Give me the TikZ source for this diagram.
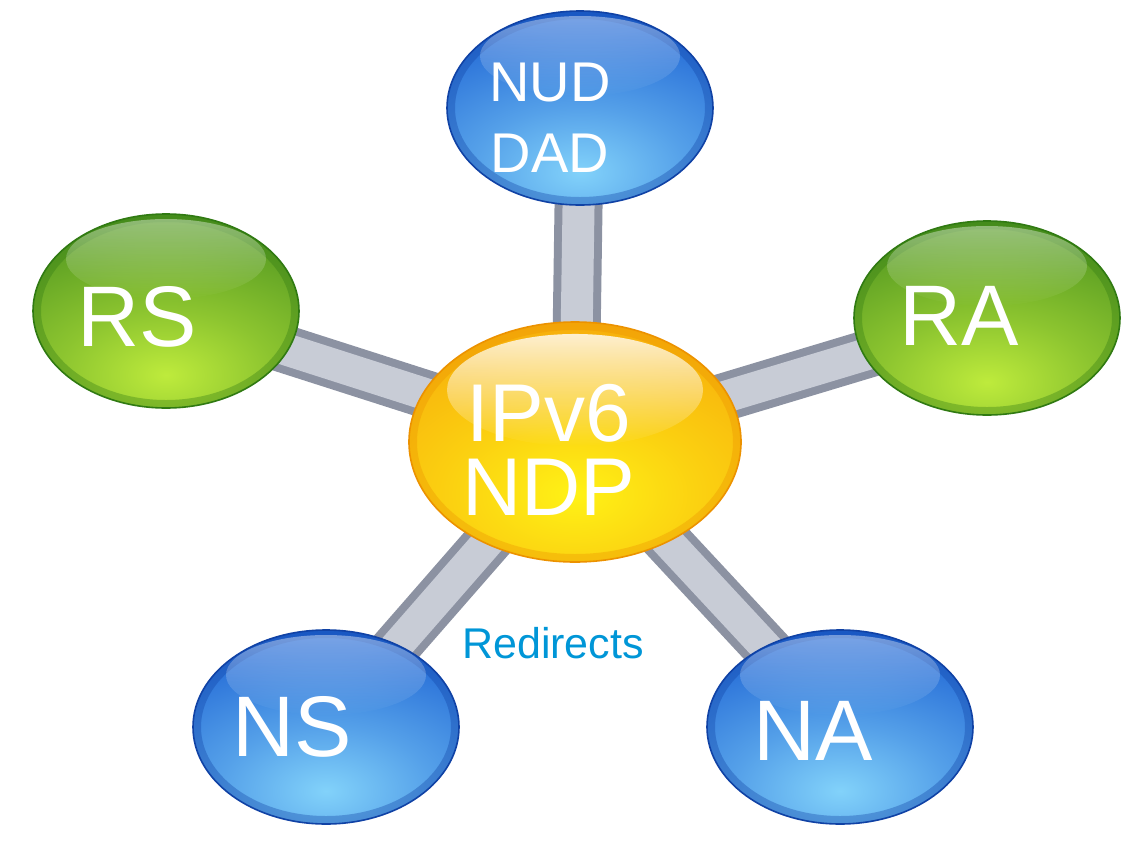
\documentclass[tikz,border=0pt]{standalone}
\usepackage{fontspec}
\setmainfont{Liberation Sans}
\usetikzlibrary{shapes.geometric,backgrounds,fadings}

\definecolor{orbblue}{RGB}{30,100,212}
\definecolor{orbblueglow}{RGB}{130,210,250}
\definecolor{orbbluerim}{RGB}{16,66,165}
\definecolor{orbgreen}{RGB}{80,150,32}
\definecolor{orbgreenglow}{RGB}{190,235,60}
\definecolor{orbgreenrim}{RGB}{48,122,18}
\definecolor{hubbody}{RGB}{246,166,10}
\definecolor{hubglow}{RGB}{255,242,22}
\definecolor{hubrim}{RGB}{236,146,0}
\definecolor{rodedge}{RGB}{140,146,162}
\definecolor{rodcore}{RGB}{200,204,214}
\definecolor{redirtext}{RGB}{0,150,215}

% lower glow of a ball, colours set just before use
\colorlet{glowin}{white}
\colorlet{glowout}{black}
\pgfdeclareradialshading[glowin,glowout]{ballglow}{\pgfpointorigin}{color(0bp)=(glowin);
  color(9bp)=(glowin!55!glowout); color(22bp)=(glowout); color(50bp)=(glowout)}
\tikzfading[name=fadedown, top color=transparent!0, bottom color=transparent!100]

\tikzset{
  % glossy satellite ball: body, glow, rim
  orb/.style n args={3}{ellipse, minimum width=133pt, minimum height=97pt,
    inner sep=0pt, fill=#1, draw=#3, line width=0.8pt,
    path picture={
      \colorlet{glowin}{#2}\colorlet{glowout}{#1}
      \shade[shading=ballglow]
        ([shift={(-150pt,-122pt)}]path picture bounding box.center) rectangle
        ([shift={(150pt,58pt)}]path picture bounding box.center);
      \draw[#3, line width=8pt, opacity=0.35]
        (path picture bounding box.center) ellipse [x radius=66.5pt, y radius=48.5pt];
      \fill[white, fill opacity=0.4, path fading=fadedown]
        ([yshift=26pt]path picture bounding box.center)
        ellipse [x radius=50pt, y radius=20pt];
    }},
  hub/.style={ellipse, minimum width=166pt, minimum height=120pt,
    inner sep=0pt, fill=hubbody, draw=hubrim, line width=0.8pt,
    path picture={
      \colorlet{glowin}{hubglow}\colorlet{glowout}{hubbody}
      \shade[shading=ballglow]
        ([shift={(-180pt,-136pt)}]path picture bounding box.center) rectangle
        ([shift={(180pt,84pt)}]path picture bounding box.center);
      \draw[hubrim, line width=8pt, opacity=0.35]
        (path picture bounding box.center) ellipse [x radius=83pt, y radius=60pt];
      \fill[white, fill opacity=0.8, path fading=fadedown]
        ([yshift=26pt]path picture bounding box.center)
        ellipse [x radius=64pt, y radius=28pt];
    }},
  orbtext/.style={text=white, align=center},
  rod/.style={draw=rodedge, line width=4pt, double=rodcore, double distance=16pt}
}

\begin{document}
\begin{tikzpicture}[x=0.5pt, y=-0.5pt]
  \useasboundingbox (0,0) rectangle (1137,842);

  % hub and the five messages round it
  \node[hub, label={[orbtext, xshift=-13pt, yshift=-4pt,
      font=\fontsize{41}{37}\selectfont]center:IPv6\\NDP}] (hub) at (575,442) {};
  \node[orb={orbblue}{orbblueglow}{orbbluerim}, label={[orbtext, xshift=-15pt, yshift=-5pt,
      font=\fontsize{28}{35.5}\selectfont]center:NUD\\DAD}] (nud) at (580,108) {};
  \node[orb={orbgreen}{orbgreenglow}{orbgreenrim}, label={[orbtext, xshift=-14.5pt, yshift=-3pt,
      font=\fontsize{43}{45}\selectfont]center:RS}] (rs) at (166,311) {};
  \node[orb={orbgreen}{orbgreenglow}{orbgreenrim}, label={[orbtext, xshift=-14pt, yshift=1pt,
      font=\fontsize{43}{45}\selectfont]center:RA}] (ra) at (987,318) {};
  \node[orb={orbblue}{orbblueglow}{orbbluerim}, label={[orbtext, xshift=-17pt, yshift=0pt,
      font=\fontsize{43}{45}\selectfont]center:NS}] (ns) at (326,727) {};
  \node[orb={orbblue}{orbblueglow}{orbbluerim}, label={[orbtext, xshift=-13.5pt, yshift=-2pt,
      font=\fontsize{43}{45}\selectfont]center:NA}] (na) at (840,727) {};

  \node[text=redirtext, font=\fontsize{21.5}{24}\selectfont] (redir) at (553,643) {Redirects};

  % rods behind the balls
  \begin{pgfonlayer}{background}
    \foreach \sat in {nud,rs,ra,ns,na}
      \draw[rod] (hub.center) -- (\sat.center);
  \end{pgfonlayer}
\end{tikzpicture}
\end{document}
